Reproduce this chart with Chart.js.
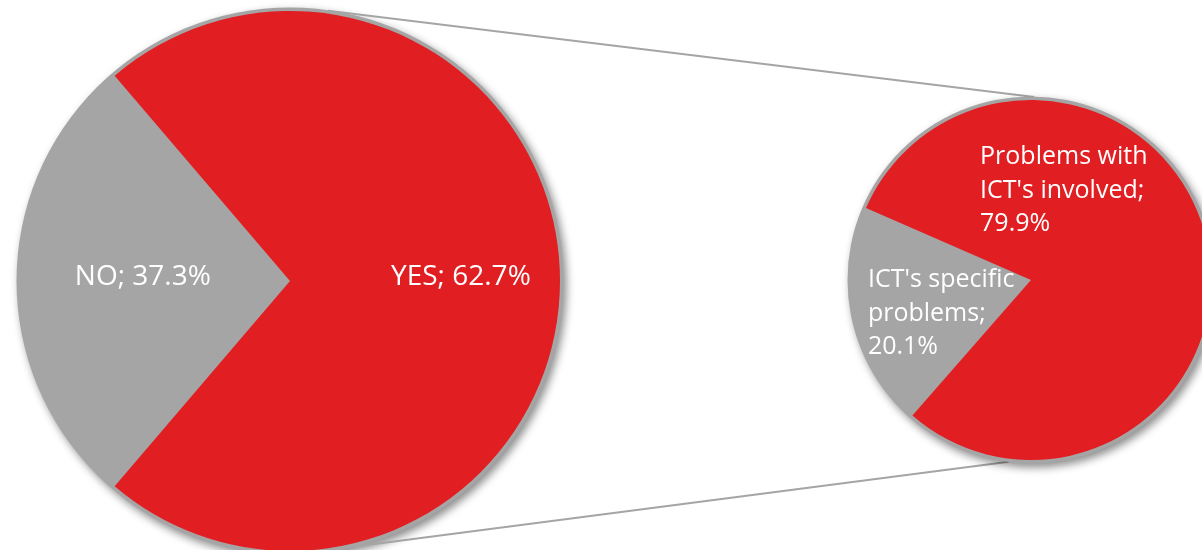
<!DOCTYPE html>
<html>
<head>
<meta charset="utf-8">
<title>Pie of pie</title>
<script src="https://cdn.jsdelivr.net/npm/chart.js@4.4.0/dist/chart.umd.min.js"></script>
<style>
    html, body { margin: 0; padding: 0; background: #ffffff; overflow: hidden; }
    #wrap { position: relative; width: 1202px; height: 550px; overflow: hidden; }
    #wrap canvas { position: absolute; left: 0; top: 0; }
</style>
</head>
<body>
<div id="wrap">
    <canvas id="mainPie" width="1230" height="570"></canvas>
    <canvas id="subPie" width="1230" height="570"></canvas>
</div>
<script>
// Main pie: wedge sizes as they are drawn in the picture, label text as printed on it
const mainCategories = ['NO', 'YES'];
const mainShares = [27.5, 72.5];
const mainLabels = ['NO; 37.3%', 'YES; 62.7%'];

// Second pie: breakdown of YES
const subCategories = ["ICT's specific problems", "Problems with ICT's involved"];
const subShares = [20.1, 79.9];
const subLabels = [
    ["ICT's specific", 'problems;', '20.1%'],
    ['Problems with', "ICT's involved;", '79.9%']
];

const RED = '#e11e22';
const GREY = '#a5a5a5';
const FONT_FAMILY = '"Open Sans", "Noto Sans", sans-serif';

function pointOnRim(arc, angleDeg, extra) {
    const a = angleDeg * Math.PI / 180;
    const r = arc.outerRadius + extra;
    return { x: arc.x + r * Math.sin(a), y: arc.y - r * Math.cos(a) };
}

// grey rim with a soft shadow, drawn under the slices
const rimPlugin = {
    id: 'rim',
    beforeDatasetsDraw(chart) {
        const arc = chart.getDatasetMeta(0).data[0];
        if (!arc) return;
        const ctx = chart.ctx;
        ctx.save();
        ctx.shadowColor = 'rgba(0, 0, 0, 0.45)';
        ctx.shadowBlur = 8;
        ctx.shadowOffsetX = 3;
        ctx.shadowOffsetY = 4;
        ctx.beginPath();
        ctx.arc(arc.x, arc.y, arc.outerRadius + 3.5, 0, Math.PI * 2);
        ctx.fillStyle = GREY;
        ctx.fill();
        ctx.restore();
    }
};

// white text labels placed relative to the pie centre (in radius units)
const sliceTextPlugin = {
    id: 'sliceText',
    afterDatasetsDraw(chart, args, opts) {
        const arc = chart.getDatasetMeta(0).data[0];
        if (!arc) return;
        const ctx = chart.ctx;
        const r = arc.outerRadius;
        ctx.save();
        ctx.fillStyle = '#ffffff';
        ctx.font = opts.size + 'px ' + FONT_FAMILY;
        ctx.textBaseline = 'middle';
        opts.items.forEach(item => {
            const lines = Array.isArray(item.text) ? item.text : [item.text];
            ctx.textAlign = item.align;
            lines.forEach((line, i) => {
                ctx.fillText(line, arc.x + item.dx * r, arc.y + item.dy * r + i * opts.lineHeight);
            });
        });
        ctx.restore();
    }
};

// series lines from the main pie to the second pie
const connectorPlugin = {
    id: 'connector',
    beforeDatasetsDraw(chart, args, opts) {
        const main = opts.source();
        if (!main) return;
        const a = main.getDatasetMeta(0).data[0];
        const b = chart.getDatasetMeta(0).data[0];
        const ctx = chart.ctx;
        ctx.save();
        ctx.strokeStyle = GREY;
        ctx.lineWidth = 2;
        opts.pairs.forEach(p => {
            const s = pointOnRim(a, p[0], 3);
            const e = pointOnRim(b, p[1], 3);
            ctx.beginPath();
            ctx.moveTo(s.x, s.y);
            ctx.lineTo(e.x, e.y);
            ctx.stroke();
        });
        ctx.restore();
    }
};

const mainChart = new Chart(document.getElementById('mainPie'), {
    type: 'pie',
    data: {
        labels: mainCategories,
        datasets: [{
            data: mainShares,
            backgroundColor: [GREY, RED],
            borderWidth: 0,
            radius: 270
        }]
    },
    options: {
        responsive: false,
        animation: false,
        events: [],
        rotation: 270 - mainShares[0] / 100 * 180,
        layout: { padding: { left: 10, top: 1, right: 660, bottom: 9 } },
        plugins: {
            legend: { display: false },
            tooltip: { enabled: false },
            sliceText: {
                size: 28,
                lineHeight: 33,
                items: [
                    { text: mainLabels[0], dx: -0.545, dy: -0.015, align: 'center' },
                    { text: mainLabels[1], dx: 0.633, dy: -0.015, align: 'center' }
                ]
            }
        }
    },
    plugins: [rimPlugin, sliceTextPlugin]
});

const subChart = new Chart(document.getElementById('subPie'), {
    type: 'pie',
    data: {
        labels: subCategories,
        datasets: [{
            data: subShares,
            backgroundColor: [GREY, RED],
            borderWidth: 0,
            radius: 180
        }]
    },
    options: {
        responsive: false,
        animation: false,
        events: [],
        rotation: 221.2,
        layout: { padding: { left: 841, top: 90, right: 9, bottom: 100 } },
        plugins: {
            legend: { display: false },
            tooltip: { enabled: false },
            connector: {
                source: () => mainChart,
                pairs: [[8, 1], [167, 187]]
            },
            sliceText: {
                size: 25,
                lineHeight: 33.5,
                items: [
                    { text: subLabels[0], dx: -0.906, dy: 0, align: 'left' },
                    { text: subLabels[1], dx: -0.283, dy: -0.683, align: 'left' }
                ]
            }
        }
    },
    plugins: [connectorPlugin, rimPlugin, sliceTextPlugin]
});
</script>
</body>
</html>
